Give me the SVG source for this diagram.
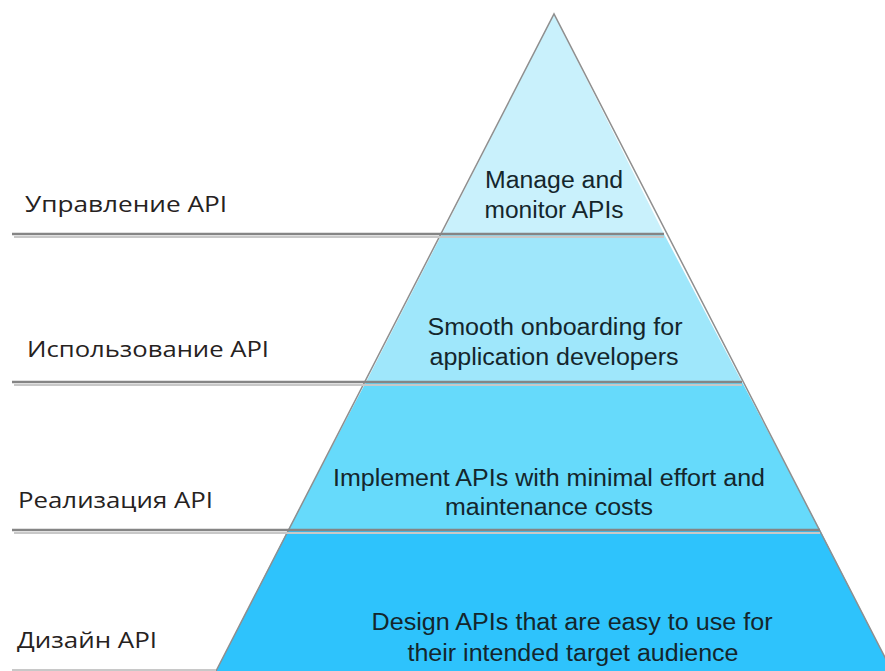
<svg xmlns="http://www.w3.org/2000/svg" width="885" height="671" viewBox="0 0 885 671">
  <style>
    .band { stroke: none; }
    .sep { stroke: #858585; stroke-width: 2.5; }
    .sep-shadow { stroke: #c8c8c8; stroke-width: 2; }
    .layer { font-family: "Open Sans", "Noto Sans", sans-serif; font-size: 22px; fill: #26221e; }
    .desc { font-family: "Liberation Sans", Arial, sans-serif; font-size: 23px; fill: #14262c; text-anchor: middle; }
  </style>
  <rect width="885" height="671" fill="#ffffff"/>

  <!-- pyramid tiers -->
  <g id="tier-manage">
    <polygon class="band" points="554,14 664,234 442,234" fill="#c9f1fc"/>
    <text class="desc" x="554" y="188" textLength="138" lengthAdjust="spacingAndGlyphs">Manage and</text>
    <text class="desc" x="554" y="218" textLength="139" lengthAdjust="spacingAndGlyphs">monitor APIs</text>
  </g>
  <g id="tier-use">
    <polygon class="band" points="442,234 664,234 742,382 366,382" fill="#9fe7fb"/>
    <text class="desc" x="555" y="335" textLength="255" lengthAdjust="spacingAndGlyphs">Smooth onboarding for</text>
    <text class="desc" x="554" y="365" textLength="249" lengthAdjust="spacingAndGlyphs">application developers</text>
  </g>
  <g id="tier-implement">
    <polygon class="band" points="366,382 742,382 820,530 288,530" fill="#66dafb"/>
    <text class="desc" x="549" y="486" textLength="432" lengthAdjust="spacingAndGlyphs">Implement APIs with minimal effort and</text>
    <text class="desc" x="549" y="515" textLength="208" lengthAdjust="spacingAndGlyphs">maintenance costs</text>
  </g>
  <g id="tier-design">
    <polygon class="band" points="288,530 820,530 892,671 216,671" fill="#2ec3fc"/>
    <text class="desc" x="572" y="630" textLength="401" lengthAdjust="spacingAndGlyphs">Design APIs that are easy to use for</text>
    <text class="desc" x="573" y="661" textLength="331" lengthAdjust="spacingAndGlyphs">their intended target audience</text>
  </g>

  <!-- pyramid outline -->
  <polyline points="216,671 554,14 892,671" fill="none" stroke="#8f8f8f" stroke-width="1.5"/>

  <!-- layer separators -->
  <g id="separators">
    <line class="sep-shadow" x1="14" y1="237" x2="664" y2="237"/>
    <line class="sep" x1="12" y1="234" x2="664" y2="234"/>
    <line class="sep-shadow" x1="14" y1="385" x2="742" y2="385"/>
    <line class="sep" x1="12" y1="382" x2="742" y2="382"/>
    <line class="sep-shadow" x1="14" y1="533" x2="820" y2="533"/>
    <line class="sep" x1="12" y1="530" x2="820" y2="530"/>
    <line class="sep-shadow" x1="12" y1="670" x2="216" y2="670"/>
  </g>

  <!-- layer names -->
  <g id="label-manage"><text class="layer" x="25" y="212" textLength="202" lengthAdjust="spacingAndGlyphs">Управление API</text></g>
  <g id="label-use"><text class="layer" x="27" y="357" textLength="242" lengthAdjust="spacingAndGlyphs">Использование API</text></g>
  <g id="label-implement"><text class="layer" x="18" y="508" textLength="195" lengthAdjust="spacingAndGlyphs">Реализация API</text></g>
  <g id="label-design"><text class="layer" x="17" y="648" textLength="140" lengthAdjust="spacingAndGlyphs">Дизайн API</text></g>
</svg>
